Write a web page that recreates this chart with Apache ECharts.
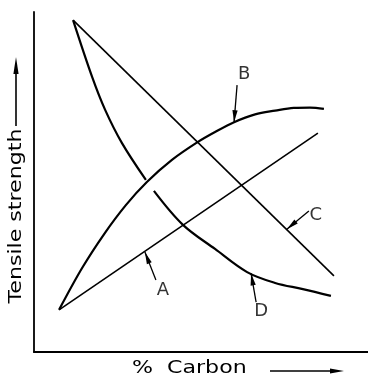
<!DOCTYPE html>
<html>
<head>
<meta charset="utf-8">
<script src="https://cdn.jsdelivr.net/npm/echarts@6/dist/echarts.min.js"></script>
<style>
  html, body { margin: 0; padding: 0; background: #fff; }
  #chart { width: 368px; height: 378px; }
</style>
</head>
<body>
<div id="chart"></div>
<script>
// Tensile strength against % carbon (arbitrary units: carbon 0..1, strength 0..100)
const curveAx = [0.075, 0.850];
const curveAy = [12.4, 64.4];

const curveBx = [0.075, 0.144, 0.210, 0.275, 0.338, 0.413, 0.491, 0.542, 0.599, 0.662, 0.722, 0.778, 0.826, 0.868];
const curveBy = [12.4, 24.7, 34.7, 43.2, 50.0, 56.5, 61.8, 64.7, 67.6, 69.9, 71.0, 71.8, 71.9, 71.5];

const curveCx = [0.117, 0.898];
const curveCy = [97.6, 22.4];

// D is drawn with a short break where it passes under B
const curveDx = [0.117, 0.174, 0.213, 0.263, 0.335, null, 0.359, 0.446, 0.542, 0.638, 0.722, 0.805, 0.889];
const curveDy = [97.6, 80.9, 71.2, 61.5, 50.6, null, 47.4, 37.4, 30.3, 23.5, 20.3, 18.5, 16.5];

// Curve labels: letter, label position, leader tail, leader head (on the curve)
const labelNames = ['A', 'B', 'C', 'D'];
const labelPos = [[0.386, 18.2], [0.629, 81.8], [0.844, 40.3], [0.680, 12.1]];
const leaderTail = [[0.365, 21.2], [0.608, 78.5], [0.823, 41.5], [0.665, 14.7]];
const leaderHead = [[0.332, 29.4], [0.599, 67.6], [0.757, 36.1], [0.650, 23.1]];

const yTitle = 'Tensile strength';
const xTitle = '%  Carbon';

const INK = '#000';
const FONT = '"DejaVu Sans", sans-serif';

function pairs(xs, ys) {
  return xs.map((x, i) => (x === null ? [null, null] : [x, ys[i]]));
}

// Narrow filled arrowhead; tip sits at the symbol centre
const ARROW = 'path://M0,0 M24,24 M12,12 L14.6,24 L9.4,24 Z';

function leader(i) {
  return {
    silent: true,
    symbol: ['none', ARROW],
    symbolSize: 24,
    lineStyle: { color: INK, width: 1.3, type: 'solid' },
    label: { show: false },
    data: [[
      { coord: leaderTail[i] },
      { coord: leaderHead[i] }
    ]]
  };
}

const chart = echarts.init(document.getElementById('chart'), null, { renderer: 'canvas' });

const GRID = { left: 34, top: 12, right: 0, bottom: 26 };

chart.setOption({
  animation: false,
  backgroundColor: '#fff',
  grid: GRID,
  xAxis: {
    type: 'value', min: 0, max: 1,
    axisLine: { show: true, lineStyle: { color: INK, width: 2 } },
    axisTick: { show: false }, axisLabel: { show: false }, splitLine: { show: false }
  },
  yAxis: {
    type: 'value', min: 0, max: 100,
    axisLine: { show: true, lineStyle: { color: INK, width: 1.8 } },
    axisTick: { show: false }, axisLabel: { show: false }, splitLine: { show: false }
  },
  series: [
    {
      name: 'A', type: 'line', data: pairs(curveAx, curveAy), showSymbol: false,
      lineStyle: { color: INK, width: 1.6 }, markLine: leader(0)
    },
    {
      name: 'B', type: 'line', data: pairs(curveBx, curveBy), showSymbol: false,
      smooth: 0.35,
      lineStyle: { color: INK, width: 2.2 }, markLine: leader(1)
    },
    {
      name: 'C', type: 'line', data: pairs(curveCx, curveCy), showSymbol: false,
      lineStyle: { color: INK, width: 1.6 }, markLine: leader(2)
    },
    {
      name: 'D', type: 'line', data: pairs(curveDx, curveDy), showSymbol: false,
      smooth: 0.35, connectNulls: false,
      lineStyle: { color: INK, width: 2.2 }, markLine: leader(3)
    },
    {
      name: 'labels', type: 'scatter', symbolSize: 1,
      itemStyle: { color: 'rgba(0,0,0,0)' },
      data: labelPos.map((p, i) => [p[0], p[1], labelNames[i]]),
      label: {
        show: true, position: 'inside', formatter: (p) => p.value[2],
        color: INK, fontFamily: FONT, fontSize: 18
      },
      silent: true
    }
  ],
  graphic: [
    // vertical axis title with upward arrow
    {
      type: 'text', x: 17, y: 216, rotation: Math.PI / 2, scaleX: 1.3,
      style: {
        text: yTitle, fill: INK, font: '17px ' + FONT,
        align: 'center', verticalAlign: 'middle'
      }
    },
    { type: 'line', shape: { x1: 16, y1: 126, x2: 16, y2: 70 }, style: { stroke: INK, lineWidth: 1.6 } },
    { type: 'polygon', shape: { points: [[16, 57], [18.6, 74], [13.4, 74]] }, style: { fill: INK } },
    // horizontal axis title with rightward arrow
    {
      type: 'text', x: 132, y: 369, scaleX: 1.3,
      style: {
        text: xTitle, fill: INK, font: '17px ' + FONT,
        align: 'left', verticalAlign: 'middle'
      }
    },
    { type: 'line', shape: { x1: 270, y1: 371, x2: 332, y2: 371 }, style: { stroke: INK, lineWidth: 1.6 } },
    { type: 'polygon', shape: { points: [[344, 371], [330, 368.6], [330, 373.4]] }, style: { fill: INK } }
  ]
});
</script>
</body>
</html>
